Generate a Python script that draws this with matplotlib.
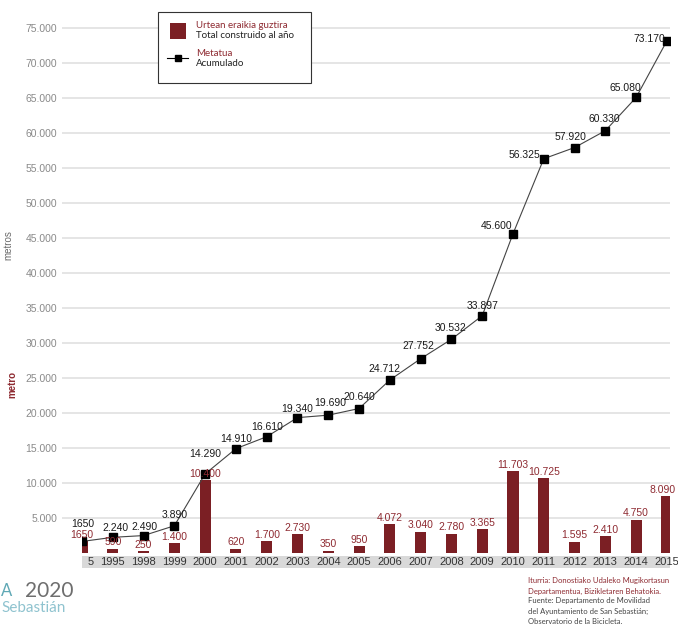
import matplotlib
matplotlib.use('Agg')
import matplotlib.pyplot as plt
import matplotlib.transforms as mtransforms
from matplotlib.patches import Rectangle
from matplotlib.lines import Line2D

plt.rcParams['font.family'] = ['Liberation Sans', 'DejaVu Sans']

# Data
years = ['5', '1995', '1998', '1999', '2000', '2001', '2002', '2003', '2004', '2005',
         '2006', '2007', '2008', '2009', '2010', '2011', '2012', '2013', '2014', '2015']
built = [1650, 590, 250, 1400, 10400, 620, 1700, 2730, 350, 950,
         4072, 3040, 2780, 3365, 11703, 10725, 1595, 2410, 4750, 8090]
built_labels = ['1650', '590', '250', '1.400', '10.400', '620', '1.700', '2.730', '350', '950',
                '4.072', '3.040', '2.780', '3.365', '11.703', '10.725', '1.595', '2.410', '4.750', '8.090']
# cumulative as drawn (the 2000 point sits lower than its label in the original)
cumul = [1650, 2240, 2490, 3890, 11300, 14910, 16610, 19340, 19690, 20640,
         24712, 27752, 30532, 33897, 45600, 56325, 57920, 60330, 65080, 73170]
cumul_labels = ['1650', '2.240', '2.490', '3.890', '14.290', '14.910', '16.610', '19.340', '19.690', '20.640',
                '24.712', '27.752', '30.532', '33.897', '45.600', '56.325', '57.920', '60.330', '65.080', '73.170']
yticks = list(range(5000, 80000, 5000))

# label offsets (pixels) for the cumulative labels
cum_off = [(1, 17), (3, 9), (1, 9), (0, 11), (0, 20), (0, 10), (0, 10), (0, 9), (2, 12), (0, 12),
           (-5, 11), (-2, 13), (-1, 11), (0, 10), (-16, 8), (-19, 4), (-4, 11), (-1, 12), (-11, 9), (-18, 2)]

W, H = 678, 625
fig = plt.figure(figsize=(W / 100, H / 100), dpi=100)
ax = fig.add_axes([82 / W, 1 - 553 / H, (670 - 82) / W, (553 - 17.5) / H])

bar_col = '#7b1f24'
lab_col = '#8e2a31'
grid_col = '#e3e3e3'

x = list(range(len(years)))
ax.set_xlim(0.16, 19.1)
ax.set_ylim(0, 76500)

ax.bar(x, built, width=0.36, color=bar_col, zorder=2)
ax.plot(x, cumul, color='#444444', lw=0.8, marker='s', ms=5.5,
        markerfacecolor='black', markeredgecolor='black', zorder=3)

for i, (xi, v, s) in enumerate(zip(x, built, built_labels)):
    dx = -3 if i == len(x) - 1 else 0
    ax.annotate(s, (xi, v), xytext=(dx, 1), textcoords='offset points', ha='center', va='bottom',
                fontsize=7.5, color=lab_col, zorder=4, annotation_clip=False)

for xi, v, s, (dx, dy) in zip(x, cumul, cumul_labels, cum_off):
    ax.annotate(s, (xi, v), xytext=(dx * 0.72, dy * 0.72), textcoords='offset points',
                ha='center', va='center', fontsize=7.5, color='#1a1a1a', zorder=4, annotation_clip=False)

# grid and y axis
ax.set_yticks(yticks)
ax.set_yticklabels([f'{t:,}'.replace(',', '.') for t in yticks])
ax.yaxis.grid(True, color=grid_col, lw=1.3, zorder=0)
ax.tick_params(axis='y', length=14.4, width=1.3, color=grid_col, pad=3.6,
               labelsize=7.5, labelcolor='#8a8a8a')
for sp in ax.spines.values():
    sp.set_visible(False)

# x axis with grey band
band = Rectangle((82 / W, 1 - 568 / H), (670 - 82) / W, 12 / H, transform=fig.transFigure,
                 facecolor='#d9d9d9', edgecolor='none', zorder=0)
fig.add_artist(band)
ax.set_xticks(x)
ax.set_xticklabels(years)
ax.tick_params(axis='x', length=0, pad=3, labelsize=8, labelcolor='#333333')
first = ax.get_xticklabels()[0]
first.set_ha('left')
first.set_transform(first.get_transform() + mtransforms.ScaledTranslation(6 / 100, 0, fig.dpi_scale_trans))

# y axis titles
fig.text(8 / W, 1 - 245 / H, 'metros', rotation=90, ha='center', va='center',
         fontsize=7, color='#6a6a6a')
fig.text(12 / W, 1 - 385 / H, 'metro', rotation=90, ha='center', va='center',
         fontsize=7, color=lab_col, fontweight='bold')

# legend box drawn by hand
fig.add_artist(Rectangle((158 / W, 1 - 83 / H), (311 - 158) / W, 71 / H, transform=fig.transFigure,
                         facecolor='white', edgecolor='#333333', lw=0.8, zorder=5))
fig.add_artist(Rectangle((170 / W, 1 - 39 / H), 16 / W, 16 / H, transform=fig.transFigure,
                         facecolor=bar_col, edgecolor='none', zorder=6))
fig.add_artist(Line2D([167 / W, 188 / W], [1 - 58 / H, 1 - 58 / H], transform=fig.transFigure,
                      color='black', lw=0.8, zorder=6))
fig.add_artist(Line2D([177.5 / W], [1 - 58 / H], transform=fig.transFigure,
                      color='black', marker='s', ms=4.5, zorder=7))
lf = ['Lato', 'DejaVu Sans']
fig.text(196 / W, 1 - 25 / H, 'Urtean eraikia guztira', fontsize=7, color=lab_col, va='center', family=lf, zorder=6)
fig.text(196 / W, 1 - 35 / H, 'Total construido al año', fontsize=7, color='#222222', va='center', family=lf, zorder=6)
fig.text(196 / W, 1 - 53 / H, 'Metatua', fontsize=7, color=lab_col, va='center', family=lf, zorder=6)
fig.text(196 / W, 1 - 63 / H, 'Acumulado', fontsize=7, color='#222222', va='center', family=lf, zorder=6)

# source note
notes = [('Iturria: Donostiako Udaleko Mugikortasun', lab_col),
         ('Departamentua, Bizikletaren Behatokia.', lab_col),
         ('Fuente: Departamento de Movilidad', '#444444'),
         ('del Ayuntamiento de San Sebastián;', '#444444'),
         ('Observatorio de la Bicicleta.', '#444444')]
for i, (t, c) in enumerate(notes):
    fig.text(528 / W, 1 - (581 + i * 10) / H, t, fontsize=5.5, color=c, va='center', family=lf)

# logo fragment
fig.text(1 / W, 1 - 591 / H, 'A', fontsize=12, color='#5fa8b5', ha='left', va='center', family=lf)
fig.text(25 / W, 1 - 591 / H, '2020', fontsize=15, color='#6e6e6e', ha='left', va='center', family=lf)
fig.text(1 / W, 1 - 608 / H, 'Sebastián', fontsize=11, color='#8fc3cf', ha='left', va='center', family=lf)

fig.savefig('out.png', dpi=100)
